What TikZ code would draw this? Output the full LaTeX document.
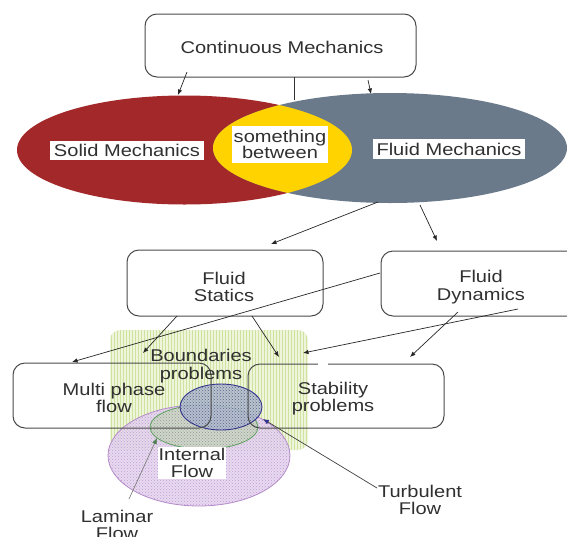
\documentclass[tikz,border=0pt]{standalone}
\usepackage{fontspec}
\setmainfont{Liberation Sans}
\usetikzlibrary{arrows.meta,patterns,shapes.geometric}
\definecolor{redm}{HTML}{A3282A}
\definecolor{greym}{HTML}{6A7A8B}
\definecolor{yellm}{HTML}{FFD300}
\definecolor{boxline}{HTML}{4A4A4A}
\definecolor{txt}{HTML}{303030}
\definecolor{grnbg}{HTML}{EEF5DA}
\definecolor{grnln}{HTML}{CFE3A0}
\definecolor{purbg}{HTML}{E6D6EE}
\definecolor{purln}{HTML}{B48CC8}
\definecolor{purdt}{HTML}{C09CD6}
\definecolor{gelbg}{HTML}{CDD6C6}
\definecolor{geldt}{HTML}{8E9E8C}
\definecolor{geldr}{HTML}{5FA060}
\definecolor{belbg}{HTML}{B2BCD0}
\definecolor{beldt}{HTML}{59648A}
\definecolor{beldr}{HTML}{34348C}
\newcommand{\sx}[1]{\scalebox{1.18}[1]{#1}}
\begin{document}
\begin{tikzpicture}[x=1pt,y=-1pt,
  box/.style={draw=boxline, line width=1pt, rounded corners=12pt, inner sep=0pt},
  lbl/.style={text=txt, font=\fontsize{17}{17.5}\selectfont, align=center, inner sep=1pt},
  arr/.style={draw=black!85, line width=0.7pt, -{Latex[length=5.5pt,width=4.5pt]}},
  plain/.style={draw=black!80, line width=0.8pt},
]
\useasboundingbox (0,0) rectangle (567,536);
\clip (0,0) rectangle (567,536);

% top box
\node[box, minimum width=271pt, minimum height=63pt] (cm) at (280.5,45.5) {};
\node[lbl] (cmt) at (282,47) {\sx{Continuous Mechanics}};

% venn ellipses
\fill[redm] (184.5,150) ellipse [x radius=167.5pt, y radius=54.5pt];
\fill[greym] (390,148) ellipse [x radius=177pt, y radius=55pt];
\begin{scope}
  \clip (184.5,150) ellipse [x radius=167.5pt, y radius=54.5pt];
  \fill[yellm] (390,148) ellipse [x radius=177pt, y radius=55pt];
\end{scope}
\node[lbl, fill=white, minimum width=154pt, minimum height=19pt] (solid) at (127,150) {\sx{Solid Mechanics}};
\node[lbl, fill=white, minimum width=96pt, minimum height=37pt] (betw) at (280,144.5) {\sx{something}\\[-1pt]\sx{between}};
\node[lbl, fill=white, minimum width=152pt, minimum height=20pt] (fluid) at (449,149) {\sx{Fluid Mechanics}};

% middle boxes
\node[box, minimum width=196pt, minimum height=66pt] (fs) at (225,283) {};
\node[lbl] (fst) at (224,287) {\sx{Fluid}\\\sx{Statics}};
\node[box, minimum width=200pt, minimum height=65pt] (fd) at (481,283.5) {};
\node[lbl] (fdt) at (481,287) {\sx{Fluid}\\\sx{Dynamics}};

% lower region shapes
\node[rounded corners=10pt, minimum width=198pt, minimum height=120pt, inner sep=0pt,
      preaction={fill=grnbg}, pattern=vertical lines, pattern color=grnln] (bnd) at (209,390) {};
\node[ellipse, draw=purln, line width=0.8pt, minimum width=182pt, minimum height=101pt, inner sep=0pt,
      preaction={fill=purbg, fill opacity=0.9}, pattern=crosshatch dots, pattern color=purdt] (pel) at (199,455.5) {};
\node[ellipse, draw=geldr, line width=0.8pt, minimum width=108pt, minimum height=44pt, inner sep=0pt,
      preaction={fill=gelbg, fill opacity=0.85}, pattern=crosshatch dots, pattern color=geldt] (gel) at (204,427) {};
\node[ellipse, draw=beldr, line width=0.9pt, minimum width=82pt, minimum height=46pt, inner sep=0pt,
      preaction={fill=belbg, fill opacity=0.85}, pattern=crosshatch dots, pattern color=beldt] (bel) at (221,407) {};

% lower boxes
\node[box, minimum width=198pt, minimum height=65pt] (mp) at (112,395.5) {};
\node[lbl] (mpt) at (114,398) {\sx{Multi phase}\\\sx{flow}};
\node[box, minimum width=196pt, minimum height=64pt] (stab) at (346,396) {};
\draw[white, line width=2.5pt] (318,364) -- (328,364);
\node[lbl] (stabt) at (333,398.5) {\sx{Stability}\\\sx{problems}};

% texts
\node[lbl] (bp) at (201,366) {\sx{Boundaries}\\\sx{problems}};
\node[lbl, fill=white, inner sep=1pt] (ifl) at (192,463) {\sx{Internal}\\\sx{Flow}};
\node[lbl] (lam) at (117,525) {\sx{Laminar}\\\sx{Flow}};
\node[lbl] (turb) at (420,500) {\sx{Turbulent}\\\sx{Flow}};

% connector end points
\coordinate (a1s) at (187,72);  \coordinate (a1e) at (178,95);
\coordinate (a2s) at (368,80);  \coordinate (a2e) at (371,94);
\coordinate (v1s) at (294,77);  \coordinate (v1e) at (294,100);
\coordinate (a3s) at (378,202); \coordinate (a3e) at (271,244);
\coordinate (a4s) at (420,205); \coordinate (a4e) at (437,241);
\coordinate (a5s) at (380,273); \coordinate (a5e) at (72,362);
\coordinate (a6s) at (177,316); \coordinate (a6e) at (143,353);
\coordinate (a7s) at (252,316); \coordinate (a7e) at (279,357);
\coordinate (a8s) at (518,309); \coordinate (a8e) at (303,353);
\coordinate (a9s) at (458,312); \coordinate (a9e) at (410,357);
\coordinate (lams) at (129,499); \coordinate (lame) at (157,438);
\coordinate (turs) at (377,488); \coordinate (ture) at (263,419);

\draw[arr] (a1s) -- (a1e);
\draw[arr] (a2s) -- (a2e);
\draw[plain] (v1s) -- (v1e);
\draw[arr] (a3s) -- (a3e);
\draw[arr] (a4s) -- (a4e);
\draw[arr] (a5s) -- (a5e);
\draw[arr] (a6s) -- (a6e);
\draw[arr] (a7s) -- (a7e);
\draw[arr] (a8s) -- (a8e);
\draw[arr] (a9s) -- (a9e);
\draw[draw=gray, line width=0.7pt, -{Latex[length=6pt,width=5pt,color=geldr!80!black]}] (lams) -- (lame);
\draw[draw=black!75, line width=0.7pt, -{Latex[length=6pt,width=5pt,color=beldr]}] (turs) -- (ture);
\end{tikzpicture}
\end{document}
